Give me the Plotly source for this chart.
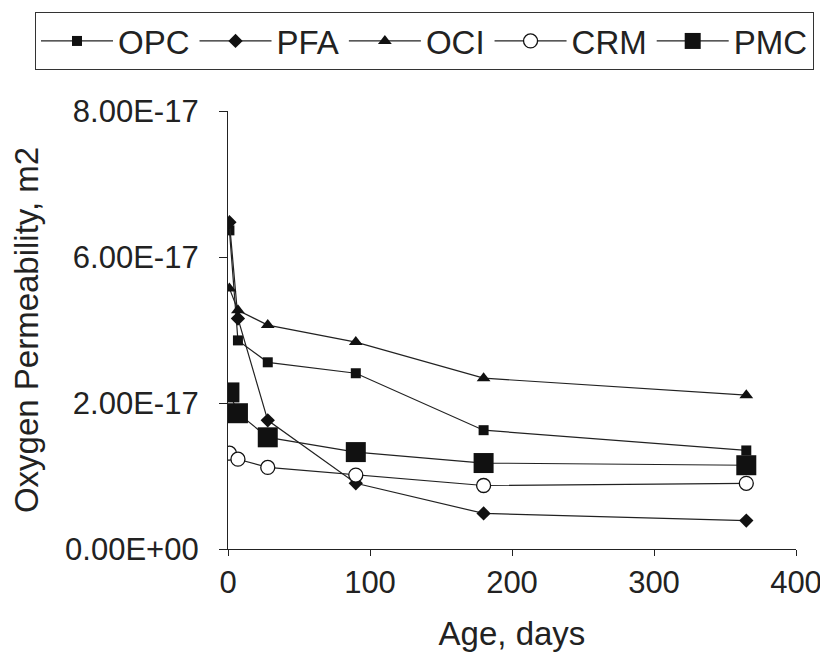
import plotly.graph_objects as go

# Data (oxygen permeability, units of 1e-17 m2)
age_days = [1, 7, 28, 90, 180, 365]
opc = [5.82, 3.81, 3.41, 3.21, 2.17, 1.80]
pfa = [5.97, 4.21, 2.35, 1.20, 0.65, 0.52]
oci = [4.76, 4.36, 4.09, 3.78, 3.12, 2.81]
crm = [1.75, 1.64, 1.49, 1.35, 1.16, 1.20]
pmc = [2.86, 2.48, 2.04, 1.77, 1.57, 1.53]

scale = 1e-17
y_tick_vals = [0, 8 / 3 * scale, 16 / 3 * scale, 8 * scale]
y_tick_text = ["0.00E+00", "2.00E-17", "6.00E-17", "8.00E-17"]
x_tick_vals = [0, 100, 200, 300, 400]

series = [
    ("OPC", opc, dict(symbol="square", size=10, color="#111")),
    ("PFA", pfa, dict(symbol="diamond", size=11, color="#111")),
    ("OCI", oci, dict(symbol="triangle-up", size=12, color="#111")),
    ("CRM", crm, dict(symbol="circle", size=14, color="white",
                      line=dict(color="#111", width=1.3))),
    ("PMC", pmc, dict(symbol="square", size=20, color="#111")),
]

fig = go.Figure()
for name, vals, marker in series:
    fig.add_trace(go.Scatter(
        x=age_days,
        y=[v * scale for v in vals],
        mode="lines+markers",
        name=name,
        line=dict(color="#222", width=1.2),
        marker=marker,
    ))

font_family = "Liberation Sans, Arial, sans-serif"
# the page body has an 8px margin, so the figure is sized to fit inside it
W, H = 820, 649
L, R, T, B = 220, 32, 103, 108
pw, ph = W - L - R, H - T - B

fig.update_layout(
    width=W,
    height=H,
    paper_bgcolor="white",
    plot_bgcolor="white",
    margin=dict(l=L, r=R, t=T, b=B, autoexpand=False),
    font=dict(family=font_family, size=32, color="#222"),
    showlegend=True,
    legend=dict(
        orientation="h",
        xref="paper", yref="paper",
        x=(27 - L) / pw, y=1 + (T - 4) / ph,
        xanchor="left", yanchor="top",
        bordercolor="#333", borderwidth=1,
        bgcolor="white",
        font=dict(family=font_family, size=33, color="#222"),
        itemwidth=72,
        tracegroupgap=0,
    ),
    xaxis=dict(
        range=[0, 400],
        tickvals=x_tick_vals,
        showgrid=False, zeroline=False,
        showline=True, linecolor="#222", linewidth=1.2,
        ticks="outside", ticklen=6, tickcolor="#222",
        tickfont=dict(size=31),
        title=dict(text="Age, days", font=dict(size=33), standoff=22),
    ),
    yaxis=dict(
        range=[0, 8 * scale],
        tickvals=y_tick_vals,
        ticktext=y_tick_text,
        showgrid=False, zeroline=False,
        showline=True, linecolor="#222", linewidth=1.2,
        ticks="outside", ticklen=8, tickcolor="#222",
        tickfont=dict(size=31),
        ticklabelstandoff=14,
        title=dict(text="Oxygen Permeability, m2", font=dict(size=33), standoff=24),
    ),
)

fig.write_html("out.html")
